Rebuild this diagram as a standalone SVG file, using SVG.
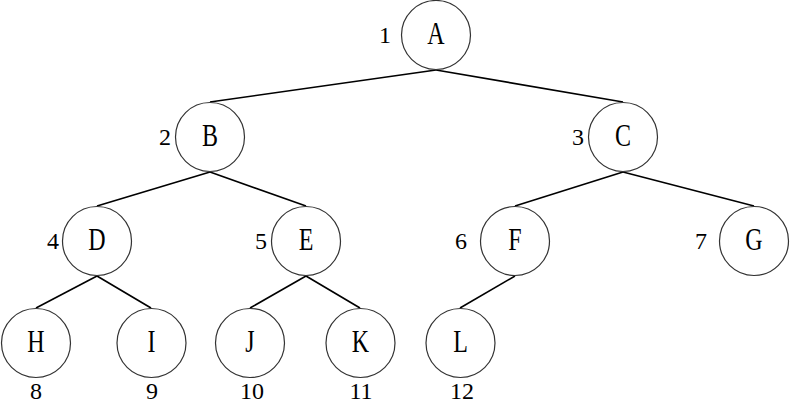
<svg xmlns="http://www.w3.org/2000/svg" width="790" height="415" viewBox="0 0 790 415">
<style>
.n{fill:#fff;stroke:#333;stroke-width:1.2}
.l{font-size:32px;fill:#000;text-anchor:middle}
.k{font-size:24px;fill:#000;text-anchor:middle}
#edges line{stroke:#000;stroke-width:1.6}
</style>
<rect width="790" height="415" fill="#fff"/>
<g id="edges">
<line x1="436" y1="70" x2="210" y2="102"/>
<line x1="436" y1="70" x2="623" y2="102"/>
<line x1="210" y1="172" x2="97" y2="206"/>
<line x1="210" y1="172" x2="306" y2="206"/>
<line x1="623" y1="172" x2="515" y2="206"/>
<line x1="623" y1="172" x2="754" y2="206"/>
<line x1="97" y1="276" x2="36" y2="308"/>
<line x1="97" y1="276" x2="151" y2="308"/>
<line x1="306" y1="276" x2="250" y2="308"/>
<line x1="306" y1="276" x2="360" y2="308"/>
<line x1="515" y1="276" x2="460" y2="308"/>
</g>
<g font-family="'Liberation Serif', 'Times New Roman', serif">
<g id="A"><circle class="n" cx="436" cy="35" r="34.5"/><text class="l" transform="translate(436,44) scale(0.75,1)">A</text><text class="k" x="385" y="43">1</text></g>
<g id="B"><circle class="n" cx="210" cy="137" r="34.5"/><text class="l" transform="translate(210,146) scale(0.75,1)">B</text><text class="k" x="165" y="145">2</text></g>
<g id="C"><circle class="n" cx="623" cy="137" r="34.5"/><text class="l" transform="translate(623,146) scale(0.75,1)">C</text><text class="k" x="578" y="145">3</text></g>
<g id="D"><circle class="n" cx="97" cy="241" r="34.5"/><text class="l" transform="translate(97,250) scale(0.75,1)">D</text><text class="k" x="53" y="249">4</text></g>
<g id="E"><circle class="n" cx="306" cy="241" r="34.5"/><text class="l" transform="translate(306,250) scale(0.75,1)">E</text><text class="k" x="261" y="249">5</text></g>
<g id="F"><circle class="n" cx="515" cy="241" r="34.5"/><text class="l" transform="translate(515,250) scale(0.75,1)">F</text><text class="k" x="461" y="249">6</text></g>
<g id="G"><circle class="n" cx="754" cy="241" r="34.5"/><text class="l" transform="translate(754,250) scale(0.75,1)">G</text><text class="k" x="701" y="249">7</text></g>
<g id="H"><circle class="n" cx="36" cy="343" r="34.5"/><text class="l" transform="translate(36,352) scale(0.75,1)">H</text><text class="k" x="36" y="399">8</text></g>
<g id="I"><circle class="n" cx="151.5" cy="343" r="34.5"/><text class="l" transform="translate(151.5,352) scale(0.75,1)">I</text><text class="k" x="152" y="399">9</text></g>
<g id="J"><circle class="n" cx="250" cy="343" r="34.5"/><text class="l" transform="translate(250,352) scale(0.75,1)">J</text><text class="k" x="252" y="399">10</text></g>
<g id="K"><circle class="n" cx="360.5" cy="343" r="34.5"/><text class="l" transform="translate(360.5,352) scale(0.75,1)">K</text><text class="k" x="361" y="399">11</text></g>
<g id="L"><circle class="n" cx="460.5" cy="343" r="34.5"/><text class="l" transform="translate(460.5,352) scale(0.75,1)">L</text><text class="k" x="462" y="399">12</text></g>
</g>
</svg>
